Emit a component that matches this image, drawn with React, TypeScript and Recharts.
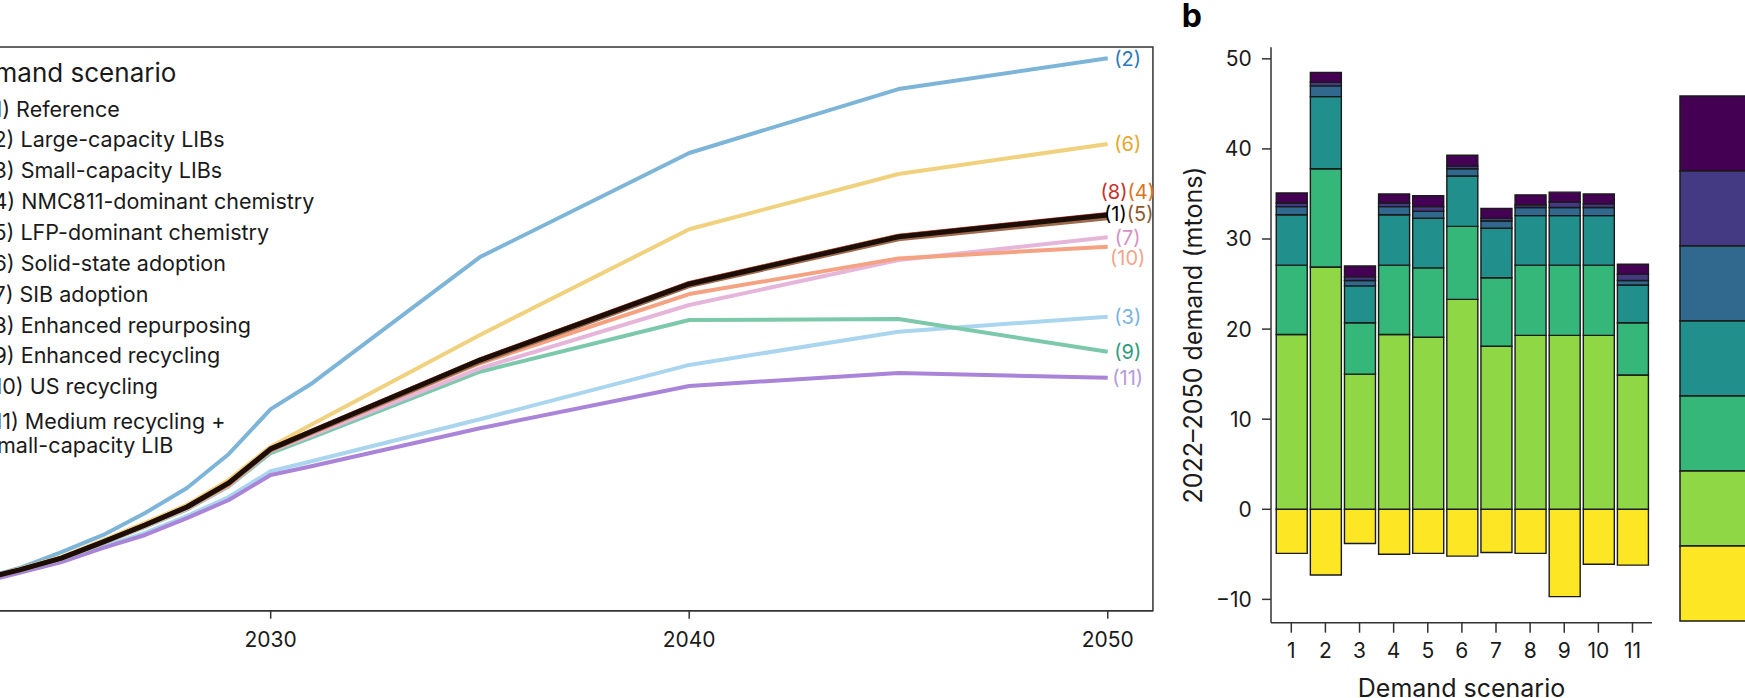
import React from 'react';
import {
  LineChart,
  Line,
  XAxis,
  YAxis,
  ReferenceArea,
  Legend,
  BarChart,
  Bar,
  Label,
} from 'recharts';

// ---------------- Panel a: annual demand trajectories ----------------
const YEARS = [2022, 2023, 2024, 2025, 2026, 2027, 2028, 2029, 2030, 2031, 2035, 2040, 2045, 2050];

const S1_REFERENCE = [0.121, 0.163, 0.217, 0.28, 0.366, 0.456, 0.552, 0.68, 0.861, 0.956, 1.334, 1.739, 1.99, 2.106];
const S2_LARGE_CAP = [0.126, 0.163, 0.227, 0.312, 0.403, 0.52, 0.653, 0.834, 1.073, 1.212, 1.882, 2.436, 2.776, 2.94];
const S3_SMALL_CAP = [0.115, 0.152, 0.206, 0.265, 0.339, 0.414, 0.504, 0.605, 0.743, 0.797, 1.019, 1.308, 1.485, 1.565];
const S4_NMC811 = [0.121, 0.163, 0.217, 0.281, 0.367, 0.457, 0.553, 0.682, 0.863, 0.958, 1.336, 1.742, 1.994, 2.101];
const S5_LFP = [0.121, 0.162, 0.216, 0.279, 0.364, 0.454, 0.549, 0.676, 0.855, 0.95, 1.324, 1.729, 1.978, 2.09];
const S6_SOLID_STATE = [0.121, 0.165, 0.222, 0.286, 0.376, 0.467, 0.563, 0.696, 0.873, 0.994, 1.467, 2.03, 2.324, 2.484];
const S7_SIB = [0.121, 0.162, 0.215, 0.277, 0.361, 0.449, 0.543, 0.666, 0.85, 0.935, 1.29, 1.627, 1.866, 1.987];
const S8_REPURPOSING = [0.121, 0.163, 0.218, 0.281, 0.367, 0.458, 0.554, 0.683, 0.864, 0.96, 1.338, 1.744, 1.996, 2.111];
const S9_ENH_RECYCLING = [0.121, 0.161, 0.214, 0.275, 0.358, 0.446, 0.539, 0.662, 0.839, 0.924, 1.272, 1.547, 1.552, 1.378];
const S10_US_RECYCLING = [0.121, 0.162, 0.216, 0.278, 0.363, 0.452, 0.547, 0.669, 0.855, 0.946, 1.317, 1.685, 1.875, 1.937];
const S11_MEDIUM_SMALL = [0.11, 0.147, 0.201, 0.259, 0.334, 0.403, 0.493, 0.589, 0.722, 0.77, 0.971, 1.196, 1.265, 1.24];

const SERIES_VALUES = [
  S1_REFERENCE, S2_LARGE_CAP, S3_SMALL_CAP, S4_NMC811, S5_LFP, S6_SOLID_STATE,
  S7_SIB, S8_REPURPOSING, S9_ENH_RECYCLING, S10_US_RECYCLING, S11_MEDIUM_SMALL,
];
const SERIES_KEYS = ['s1', 's2', 's3', 's4', 's5', 's6', 's7', 's8', 's9', 's10', 's11'];
const LEGEND_TITLE = 'Demand scenario';
const LEGEND_LINES = [
  '(1) Reference',
  '(2) Large-capacity LIBs',
  '(3) Small-capacity LIBs',
  '(4) NMC811-dominant chemistry',
  '(5) LFP-dominant chemistry',
  '(6) Solid-state adoption',
  '(7) SIB adoption',
  '(8) Enhanced repurposing',
  '(9) Enhanced recycling',
  '(10) US recycling',
  '(11) Medium recycling +',
  'small-capacity LIB',
];
const X_TICKS = [2030, 2040, 2050];

// ---------------- Panel b: cumulative 2022-2050 demand ----------------
const SCENARIO_IDS = ['1', '2', '3', '4', '5', '6', '7', '8', '9', '10', '11'];
const LAYER_YELLOW = [-4.9, -7.3, -3.8, -5.0, -4.9, -5.2, -4.8, -4.9, -9.7, -6.1, -6.2];
const LAYER_LIGHTGREEN = [19.4, 26.9, 15.0, 19.4, 19.1, 23.3, 18.1, 19.3, 19.3, 19.3, 14.9];
const LAYER_GREEN = [7.7, 10.9, 5.7, 7.7, 7.7, 8.1, 7.6, 7.8, 7.8, 7.8, 5.8];
const LAYER_TEAL = [5.6, 8.0, 4.1, 5.6, 5.5, 5.6, 5.5, 5.5, 5.5, 5.5, 4.2];
const LAYER_BLUE = [0.9, 1.2, 0.6, 0.9, 0.8, 0.8, 0.8, 0.9, 0.9, 0.9, 0.5];
const LAYER_INDIGO = [0.4, 0.4, 0.4, 0.4, 0.5, 0.3, 0.3, 0.3, 0.6, 0.4, 0.7];
const LAYER_PURPLE = [1.1, 1.1, 1.2, 1.0, 1.2, 1.2, 1.1, 1.1, 1.1, 1.1, 1.1];
const BAR_Y_TICKS = [-10, 0, 10, 20, 30, 40, 50];

// ---------------- styles ----------------
const FONT = 'Inter, "Noto Sans", sans-serif';
const INK = '#1a1a1a';
const FRAME = '#333333';

const LINE_COLORS = [
  '#1c0d06', '#7db5d9', '#aad5ef', '#e08a3c', '#9c6b4e', '#f0d17e',
  '#e6b6da', '#c8352e', '#7cc8ab', '#f5a282', '#a984d8',
];
const LINE_WIDTHS = [5, 4, 4, 4, 4.5, 4, 4, 4, 4, 4, 4];
const DRAW_ORDER = [1, 5, 2, 10, 8, 6, 9, 7, 3, 4, 0];
type LabelPart = { text: string; color: string };
const END_LABELS: (null | { parts: LabelPart[]; dx: number; dy: number })[] = [
  { parts: [{ text: '(1)', color: '#000000' }, { text: '(5)', color: '#8b5a2b' }], dx: 21, dy: -0.7 },
  { parts: [{ text: '(2)', color: '#2a7ab9' }], dx: 20, dy: 0.7 },
  { parts: [{ text: '(3)', color: '#78b4de' }], dx: 20, dy: 0 },
  null,
  null,
  { parts: [{ text: '(6)', color: '#e3a92b' }], dx: 20, dy: 0 },
  { parts: [{ text: '(7)', color: '#d592c5' }], dx: 20, dy: 1 },
  { parts: [{ text: '(8)', color: '#c8302c' }, { text: '(4)', color: '#d9731e' }], dx: 20, dy: -21.7 },
  { parts: [{ text: '(9)', color: '#2f9c7b' }], dx: 20, dy: 0 },
  { parts: [{ text: '(10)', color: '#f2a58a' }], dx: 20, dy: 11.6 },
  { parts: [{ text: '(11)', color: '#b79bda' }], dx: 20, dy: 0.6 },
];

const LAYER_KEYS = ['yellow', 'lightgreen', 'green', 'teal', 'blue', 'indigo', 'purple'];
const LAYER_COLORS = ['#fde725', '#8fd744', '#35b779', '#21908c', '#31688e', '#443a83', '#440154'];

// layout (page px)
const LEFT_OFFSET = 105.65; // chart origin sits left of the page edge
const LEGEND_TEXT_X = -14;
const LEGEND_TITLE_X = -39;
const LEGEND_BASELINES = [116.7, 147.3, 177.7, 209, 240, 270.7, 302, 332.7, 363.3, 394.3, 429.3, 453.3];
const BAR_CHART_LEFT = 1171;

const lineData = YEARS.map((year, i) => {
  const row: Record<string, number> = { year };
  SERIES_KEYS.forEach((k, j) => {
    row[k] = SERIES_VALUES[j][i];
  });
  return row;
});

const LAYER_VALUES = [LAYER_YELLOW, LAYER_LIGHTGREEN, LAYER_GREEN, LAYER_TEAL, LAYER_BLUE, LAYER_INDIGO, LAYER_PURPLE];
const barData = SCENARIO_IDS.map((id, i) => {
  const row: Record<string, number | string> = { id };
  LAYER_KEYS.forEach((k, j) => {
    row[k] = LAYER_VALUES[j][i];
  });
  return row;
});

const makeEndLabel = (si: number) => (props: any) => {
  const { x, y, index } = props;
  const spec = END_LABELS[si];
  if (index !== YEARS.length - 1 || !spec || x == null || y == null) return <g />;
  return (
    <text
      x={x + spec.dx}
      y={y + spec.dy}
      textAnchor="middle"
      dominantBaseline="central"
      fontSize={20}
      fontFamily={FONT}
    >
      {spec.parts.map((p, k) => (
        <tspan key={k} fill={p.color}>
          {p.text}
        </tspan>
      ))}
    </text>
  );
};

const LeftLegend = () => (
  <svg width={700} height={480} style={{ position: 'absolute', left: 0, top: 0, overflow: 'visible' }}>
    <text x={LEGEND_TITLE_X + LEFT_OFFSET} y={81.7} fontSize={26} fontFamily={FONT} fill={INK}>
      {LEGEND_TITLE}
    </text>
    {LEGEND_LINES.map((t, i) => (
      <text key={i} x={LEGEND_TEXT_X + LEFT_OFFSET} y={LEGEND_BASELINES[i]} fontSize={21.5} fontFamily={FONT} fill={INK}>
        {t}
      </text>
    ))}
  </svg>
);

const RightLegend = () => (
  <svg width={600} height={698} style={{ position: 'absolute', left: 0, top: 0, overflow: 'visible' }}>
    <text x={1181.7 - BAR_CHART_LEFT} y={26.7} fontSize={32} fontWeight={700} fontFamily={FONT} fill="#000">
      b
    </text>
    {LAYER_COLORS.slice()
      .reverse()
      .map((c, i) => (
        <rect
          key={c}
          x={1680 - BAR_CHART_LEFT}
          y={96 + i * 75}
          width={120}
          height={75}
          fill={c}
          stroke="#1a1a1a"
          strokeWidth={1.5}
        />
      ))}
  </svg>
);

export default function App() {
  return (
    <div
      style={{
        position: 'absolute',
        left: 0,
        top: 0,
        width: 1745,
        height: 698,
        overflow: 'hidden',
        background: '#ffffff',
        fontFamily: FONT,
      }}
    >
      <div style={{ position: 'absolute', left: -LEFT_OFFSET, top: 0 }}>
        <LineChart
          width={1268.95}
          height={660.7}
          data={lineData}
          margin={{ top: 47, right: 10, bottom: 0, left: 0 }}
        >
          <XAxis
            dataKey="year"
            type="number"
            domain={[2021, 2051.08]}
            ticks={X_TICKS}
            allowDataOverflow
            height={50}
            tickSize={8}
            tickMargin={13}
            axisLine={{ stroke: FRAME, strokeWidth: 1.5 }}
            tickLine={{ stroke: FRAME, strokeWidth: 1.5 }}
            tick={{ fontSize: 21, fill: INK, fontFamily: FONT }}
          />
          <YAxis type="number" domain={[0, 3]} hide allowDataOverflow />
          <ReferenceArea x1={2021} x2={2051.08} y1={0} y2={3} fill="none" stroke={FRAME} strokeWidth={1.5} />
          {DRAW_ORDER.map((si) => (
            <Line
              key={SERIES_KEYS[si]}
              dataKey={SERIES_KEYS[si]}
              type="linear"
              stroke={LINE_COLORS[si]}
              strokeWidth={LINE_WIDTHS[si]}
              strokeLinejoin="round"
              dot={false}
              activeDot={false}
              isAnimationActive={false}
              label={makeEndLabel(si)}
            />
          ))}
          <Legend
            layout="horizontal"
            verticalAlign="middle"
            align="center"
            wrapperStyle={{ position: 'absolute', left: 0, top: 0, width: 700, height: 480 }}
            content={() => <LeftLegend />}
          />
        </LineChart>
      </div>

      <div style={{ position: 'absolute', left: BAR_CHART_LEFT, top: 0 }}>
        <BarChart
          width={600}
          height={698}
          data={barData}
          stackOffset="sign"
          barSize={31}
          margin={{ top: 47.3, right: 119, bottom: 0, left: 0 }}
        >
          <XAxis
            dataKey="id"
            type="category"
            interval={0}
            padding={{ left: 3.24, right: 2.46 }}
            height={75.3}
            tickSize={10}
            tickMargin={10.4}
            axisLine={{ stroke: FRAME, strokeWidth: 1.5 }}
            tickLine={{ stroke: FRAME, strokeWidth: 1.5 }}
            tick={{ fontSize: 21, fill: INK, fontFamily: FONT }}
          >
            <Label
              content={() => (
                <text x={290.5} y={696.7} textAnchor="middle" fontSize={25} fontFamily={FONT} fill={INK}>
                  Demand scenario
                </text>
              )}
            />
          </XAxis>
          <XAxis
            xAxisId="top"
            dataKey="id"
            orientation="top"
            height={0}
            tick={false}
            tickLine={false}
            axisLine={{ stroke: FRAME, strokeWidth: 1.5 }}
          />
          <YAxis
            type="number"
            domain={[-12.59, 51.28]}
            ticks={BAR_Y_TICKS}
            allowDataOverflow
            width={100}
            tickSize={9}
            tickMargin={10.3}
            axisLine={{ stroke: FRAME, strokeWidth: 1.5 }}
            tickLine={{ stroke: FRAME, strokeWidth: 1.5 }}
            tick={{ fontSize: 21, fill: INK, fontFamily: FONT }}
            tickFormatter={(v: number) => (v < 0 ? `\u2212${Math.abs(v)}` : `${v}`)}
          >
            <Label
              content={() => (
                <text
                  x={22}
                  y={335}
                  transform="rotate(-90 22 335)"
                  textAnchor="middle"
                  dominantBaseline="central"
                  fontSize={25}
                  fontFamily={FONT}
                  fill={INK}
                >
                  2022–2050 demand (mtons)
                </text>
              )}
            />
          </YAxis>
          <YAxis
            yAxisId="right"
            orientation="right"
            type="number"
            domain={[-12.59, 51.28]}
            allowDataOverflow
            width={0}
            tick={false}
            tickLine={false}
            axisLine={{ stroke: FRAME, strokeWidth: 1.5 }}
          />
          {LAYER_KEYS.map((k, i) => (
            <Bar
              key={k}
              dataKey={k}
              stackId="a"
              fill={LAYER_COLORS[i]}
              stroke="#1a1a1a"
              strokeWidth={1.4}
              isAnimationActive={false}
            />
          ))}
          <Legend
            layout="horizontal"
            verticalAlign="middle"
            align="center"
            wrapperStyle={{ position: 'absolute', left: 0, top: 0, width: 600, height: 698 }}
            content={() => <RightLegend />}
          />
        </BarChart>
      </div>
    </div>
  );
}
